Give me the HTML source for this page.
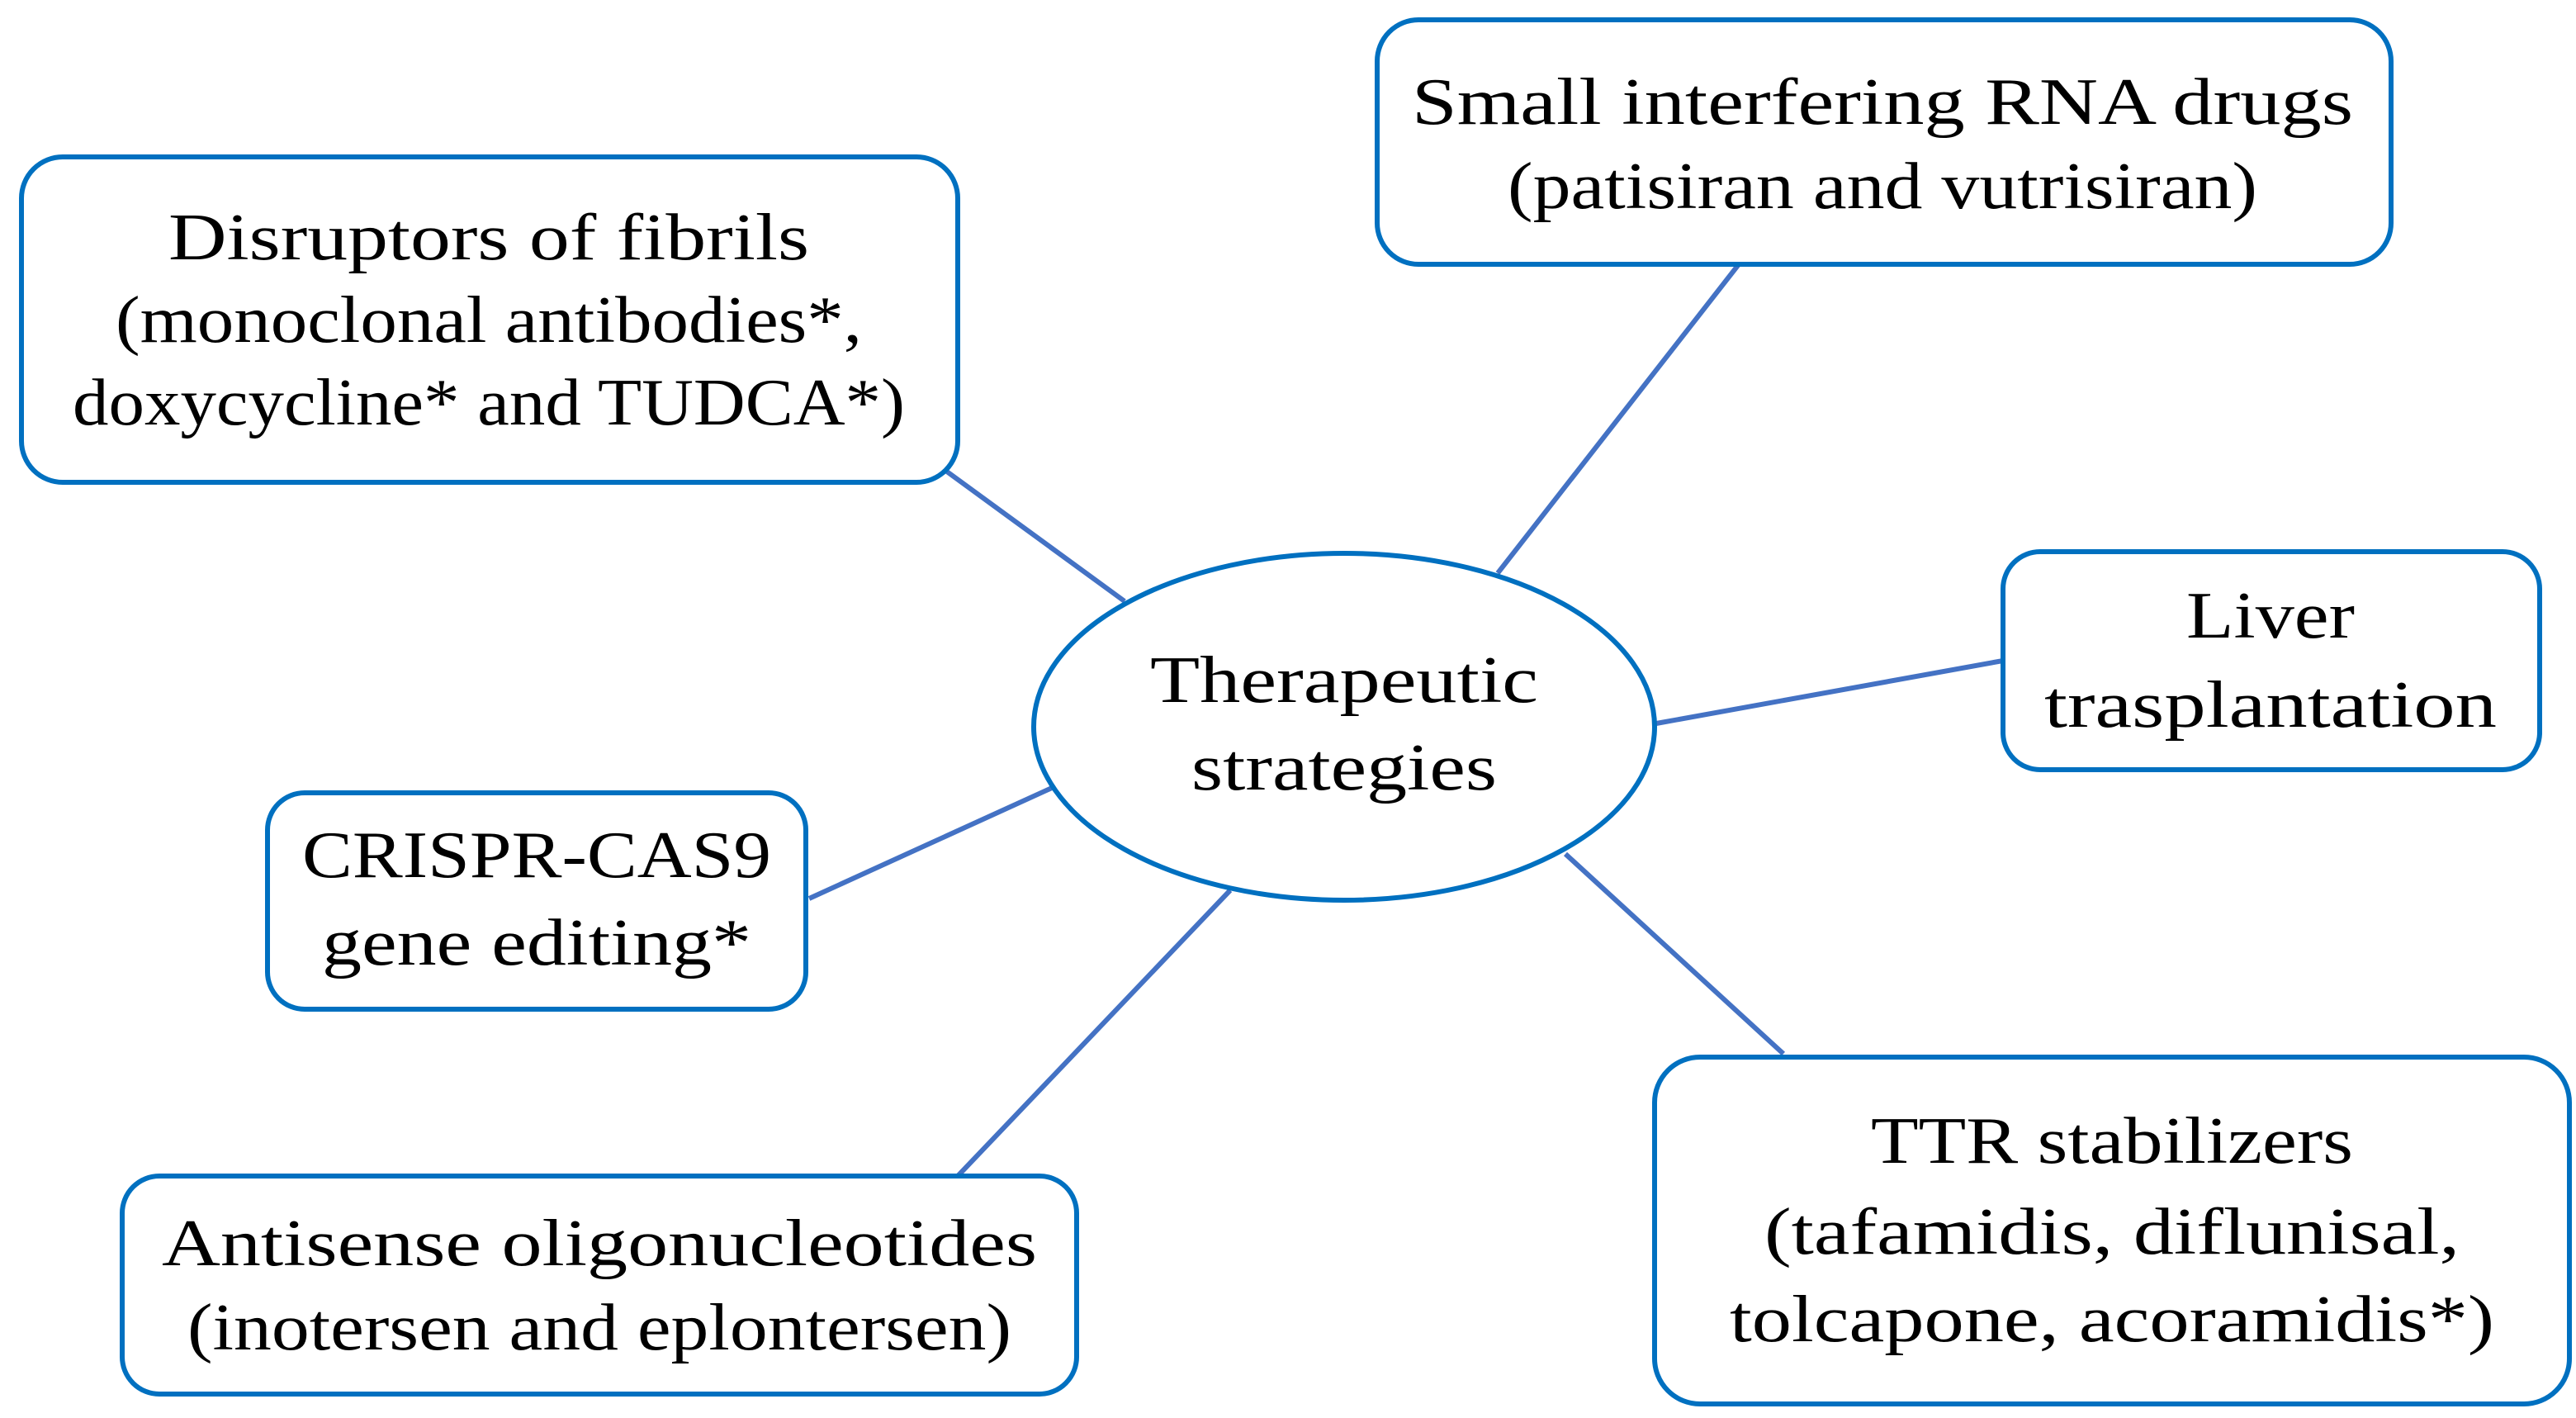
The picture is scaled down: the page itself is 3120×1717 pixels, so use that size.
<!DOCTYPE html>
<html><head><meta charset="utf-8"><style>html,body{margin:0;padding:0;background:#fff}svg{display:block}</style></head>
<body>
<svg width="3120" height="1717" viewBox="0 0 3120 1717" xmlns="http://www.w3.org/2000/svg">
<g stroke="#4472c4" stroke-width="6">
<line x1="1140" y1="566" x2="1362" y2="728"/>
<line x1="1814" y1="694" x2="2106" y2="320"/>
<line x1="2006" y1="876" x2="2426" y2="800"/>
<line x1="980" y1="1088" x2="1274" y2="954"/>
<line x1="1160" y1="1424" x2="1490" y2="1078"/>
<line x1="1896" y1="1034" x2="2160" y2="1276"/>
</g>
<g fill="#fff" stroke="#0070c0" stroke-width="6">
<rect x="26" y="190" width="1134" height="394" rx="50"/>
<rect x="1668" y="24" width="1228" height="296" rx="50"/>
<rect x="2426" y="668" width="650" height="264" rx="45"/>
<rect x="324" y="960" width="652" height="262" rx="45"/>
<rect x="148" y="1424" width="1156" height="264" rx="45"/>
<rect x="2004" y="1280" width="1108" height="420" rx="55"/>
<ellipse cx="1628" cy="880" rx="376" ry="210"/>
</g>
<g font-family="'Liberation Serif', serif" font-size="80" fill="#000" text-anchor="middle" lengthAdjust="spacingAndGlyphs">
<text x="2280" y="150" textLength="1140" lengthAdjust="spacingAndGlyphs">Small interfering RNA drugs</text>
<text x="2280" y="252" textLength="908" lengthAdjust="spacingAndGlyphs">(patisiran and vutrisiran)</text>
<text x="592" y="314" textLength="776" lengthAdjust="spacingAndGlyphs">Disruptors of fibrils</text>
<text x="592" y="414" textLength="904" lengthAdjust="spacingAndGlyphs">(monoclonal antibodies*,</text>
<text x="592" y="514" textLength="1008" lengthAdjust="spacingAndGlyphs">doxycycline* and TUDCA*)</text>
<text x="1628" y="850" textLength="470" lengthAdjust="spacingAndGlyphs">Therapeutic</text>
<text x="1628" y="956" textLength="370" lengthAdjust="spacingAndGlyphs">strategies</text>
<text x="2750" y="772" textLength="204" lengthAdjust="spacingAndGlyphs">Liver</text>
<text x="2750" y="880" textLength="548" lengthAdjust="spacingAndGlyphs">trasplantation</text>
<text x="650" y="1062" textLength="568" lengthAdjust="spacingAndGlyphs">CRISPR-CAS9</text>
<text x="650" y="1168" textLength="520" lengthAdjust="spacingAndGlyphs">gene editing*</text>
<text x="726" y="1532" textLength="1060" lengthAdjust="spacingAndGlyphs">Antisense oligonucleotides</text>
<text x="726" y="1634" textLength="998" lengthAdjust="spacingAndGlyphs">(inotersen and eplontersen)</text>
<text x="2558" y="1408" textLength="584" lengthAdjust="spacingAndGlyphs">TTR stabilizers</text>
<text x="2558" y="1518" textLength="842" lengthAdjust="spacingAndGlyphs">(tafamidis, diflunisal,</text>
<text x="2558" y="1624" textLength="926" lengthAdjust="spacingAndGlyphs">tolcapone, acoramidis*)</text>
</g>
</svg>
</body></html>
